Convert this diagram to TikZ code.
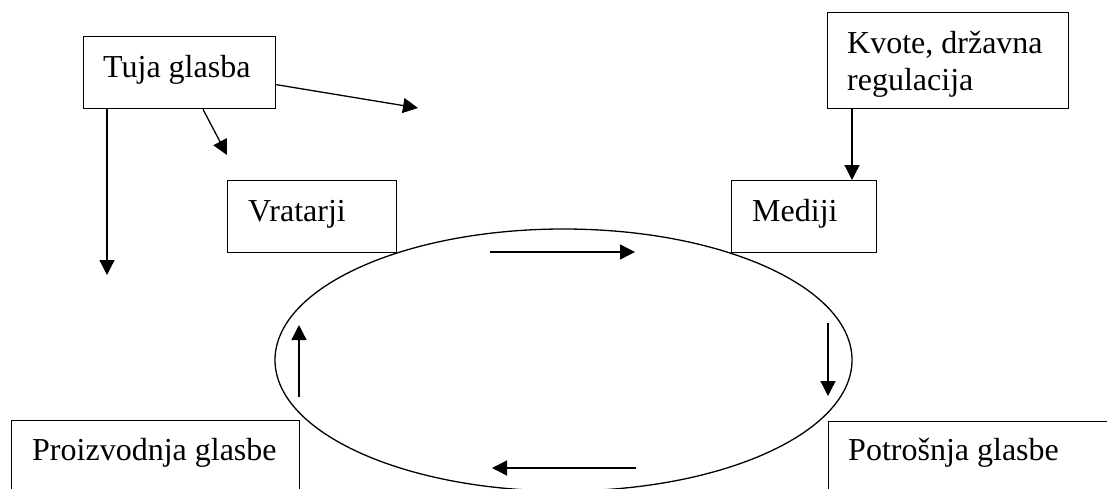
\documentclass[tikz,border=0pt]{standalone}
\usepackage{fontspec}
\setmainfont{Liberation Serif}
\usetikzlibrary{arrows.meta}

\tikzset{
  box/.style={draw, line width=1.3pt, rectangle, inner sep=0pt, anchor=north west},
  txt/.style={inner sep=0pt, anchor=base west, font=\fontsize{32pt}{37pt}\selectfont},
  arr/.style={line width=1.3pt, -{Triangle[length=15pt,width=15pt]}},
}

\begin{document}
\begin{tikzpicture}[x=1pt, y=-1pt]
  \useasboundingbox (0,0) rectangle (1107,488);
  \clip (0,0) rectangle (1107,488);

  % boxes
  \node[box, minimum width=192pt, minimum height=72pt] (tuja)  at (83,36)  {};
  \node[box, minimum width=169pt, minimum height=72pt] (vrat)  at (227,180) {};
  \node[box, minimum width=241pt, minimum height=96pt] (kvote) at (827,12) {};
  \node[box, minimum width=145pt, minimum height=72pt] (medij) at (731,180) {};
  \node[box, minimum width=288pt, minimum height=90pt] (proiz) at (11,420) {};
  \node[box, minimum width=300pt, minimum height=90pt] (potro) at (828,421) {};

  % labels
  \node[txt] (tujaT)   at (103,77)  {Tuja glasba};
  \node[txt] (vratT)   at (248,221) {Vratarji};
  \node[txt] (kvoteA)  at (847,53)  {Kvote, državna};
  \node[txt] (kvoteB)  at (847,90)  {regulacija};
  \node[txt] (medijT)  at (752,221) {Mediji};
  \node[txt] (proizT)  at (32,460)  {Proizvodnja glasbe};
  \node[txt] (potroT)  at (848,460) {Potrošnja glasbe};

  % the cycle
  \draw[line width=1.3pt] (563.5,360) ellipse [x radius=288.5, y radius=131];

  % free arrow ends
  \coordinate (down)  at (107,275);
  \coordinate (diag)  at (227,155);
  \coordinate (right) at (418,108);
  \coordinate (tA) at (490,252); \coordinate (tB) at (635,252);
  \coordinate (rA) at (828,323); \coordinate (rB) at (828,396);
  \coordinate (bA) at (636,468); \coordinate (bB) at (492,468);
  \coordinate (lA) at (299,397); \coordinate (lB) at (299,325);

  % influences
  \draw[arr] ([xshift=24pt]tuja.south west) -- (down);
  \draw[arr] ([xshift=120pt]tuja.south west) -- (diag);
  \draw[arr] ([yshift=-12pt]tuja.east) -- (right);
  \draw[arr] ([xshift=25pt]kvote.south west) -- ([xshift=121pt]medij.north west);

  % circulation inside the cycle
  \draw[arr] (tA) -- (tB);
  \draw[arr] (rA) -- (rB);
  \draw[arr] (bA) -- (bB);
  \draw[arr] (lA) -- (lB);
\end{tikzpicture}
\end{document}
